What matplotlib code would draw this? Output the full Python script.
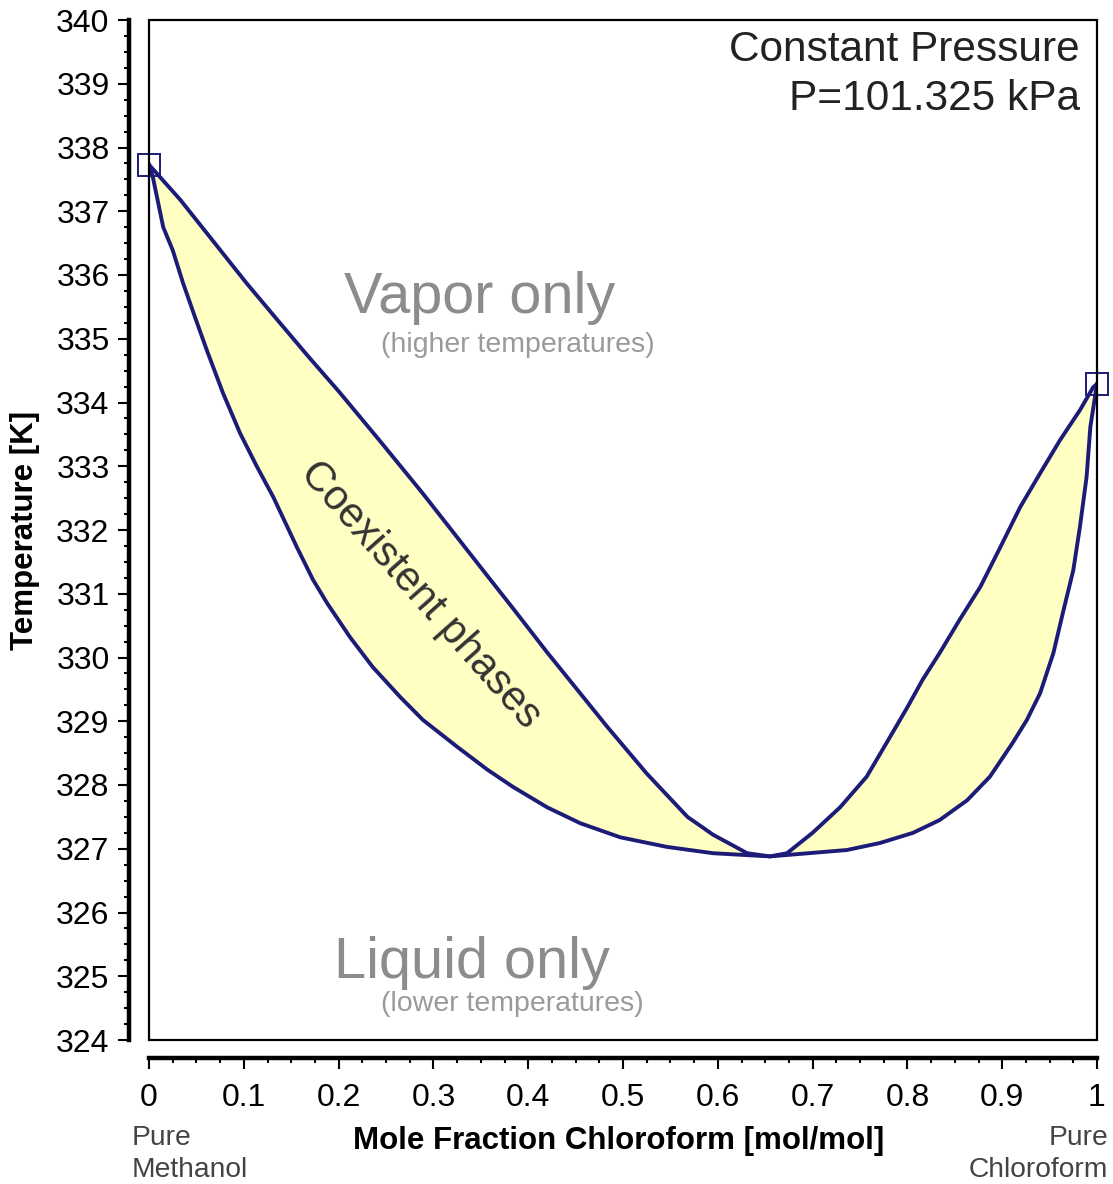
import matplotlib
matplotlib.use("Agg")
import matplotlib.pyplot as plt
from matplotlib.ticker import MultipleLocator
from matplotlib.patches import Rectangle
import numpy as np

plt.rcParams['font.family'] = ['Liberation Sans', 'DejaVu Sans']

# dew point curve (vapor side, upper line)
x_dew = [0.0, 0.033, 0.064, 0.103, 0.138, 0.167, 0.201, 0.244, 0.289, 0.357, 0.384,
         0.420, 0.483, 0.504, 0.525, 0.568, 0.595, 0.631, 0.655,
         0.673, 0.700, 0.729, 0.757, 0.778, 0.800, 0.816, 0.834, 0.855, 0.877, 0.898,
         0.919, 0.940, 0.961, 0.982, 0.996, 1.0]
T_dew = [337.73, 337.18, 336.60, 335.87, 335.25, 334.74, 334.16, 333.39, 332.57, 331.28, 330.77,
         330.08, 328.92, 328.55, 328.18, 327.50, 327.22, 326.93, 326.88,
         326.93, 327.25, 327.65, 328.13, 328.66, 329.22, 329.65, 330.07, 330.59, 331.11, 331.73,
         332.36, 332.89, 333.41, 333.88, 334.24, 334.29]

# bubble point curve (liquid side, lower line)
x_bub = [0.0, 0.004, 0.015, 0.025, 0.036, 0.0485, 0.061, 0.078, 0.096, 0.114, 0.131,
         0.156, 0.173, 0.188, 0.212, 0.236, 0.265, 0.289, 0.325, 0.357, 0.384, 0.420, 0.455,
         0.497, 0.546, 0.595, 0.655, 0.736, 0.771, 0.806, 0.834, 0.863, 0.887, 0.911, 0.926,
         0.940, 0.954, 0.964, 0.975, 0.982, 0.989, 0.993, 1.0]
T_bub = [337.73, 337.54, 336.75, 336.39, 335.87, 335.34, 334.82, 334.15, 333.52, 332.99, 332.52,
         331.73, 331.22, 330.85, 330.32, 329.85, 329.38, 329.02, 328.60, 328.24, 327.97, 327.65, 327.40,
         327.18, 327.03, 326.93, 326.88, 326.98, 327.09, 327.25, 327.45, 327.76, 328.13, 328.66, 329.02,
         329.44, 330.07, 330.70, 331.37, 332.05, 332.83, 333.62, 334.29]

# pure component boiling points
x_pure = [0.0, 1.0]
T_pure = [337.73, 334.29]

line_col = '#1c1c78'
fill_col = '#ffffc4'

fig = plt.figure(figsize=(11.13, 11.84), dpi=100)
ax = fig.add_axes([149 / 1113, 144 / 1184, 948 / 1113, 1020 / 1184])

poly_x = np.concatenate([x_dew, x_bub[::-1]])
poly_y = np.concatenate([T_dew, T_bub[::-1]])
ax.fill(poly_x, poly_y, color=fill_col, zorder=1)
ax.plot(x_dew, T_dew, color=line_col, lw=2.8, zorder=3)
ax.plot(x_bub, T_bub, color=line_col, lw=2.8, zorder=3)
ax.plot(x_pure, T_pure, 's', ms=15.5, mfc='none', mec=line_col, mew=1.4, zorder=4, clip_on=False)

ax.set_xlim(0, 1)
ax.set_ylim(324, 340)

# frame box around the plot area
ax.add_patch(Rectangle((0, 0), 1, 1, transform=ax.transAxes, fill=False,
                       ec='black', lw=1.6, zorder=5, clip_on=False))

# detached axis lines
for s in ['top', 'right']:
    ax.spines[s].set_visible(False)
ax.spines['left'].set_position(('outward', 14.4))
ax.spines['bottom'].set_position(('outward', 13))
ax.spines['left'].set_linewidth(3.2)
ax.spines['bottom'].set_linewidth(3.2)

ax.xaxis.set_minor_locator(MultipleLocator(0.025))
ax.yaxis.set_major_locator(MultipleLocator(1))
ax.yaxis.set_minor_locator(MultipleLocator(0.25))
xt = np.round(np.arange(0, 1.01, 0.1), 1)
ax.set_xticks(xt)
ax.set_xticklabels(['0' if v == 0 else ('1' if v == 1 else f'{v:g}') for v in xt])

ax.tick_params(axis='both', which='major', length=8, width=1.5, labelsize=23, colors='black')
ax.tick_params(axis='both', which='minor', length=3.5, width=1.5)
ax.tick_params(axis='y', which='major', pad=6)
ax.tick_params(axis='x', which='major', pad=10)

ax.set_ylabel('Temperature [K]', fontsize=22.5, fontweight='bold')
ax.yaxis.set_label_coords(-0.115, 0.5)
ax.set_xlabel('Mole Fraction Chloroform [mol/mol]', fontsize=22.5, fontweight='bold')
ax.xaxis.set_label_coords(0.495, -0.084)

ax.text(0.982, 0.990, 'Constant Pressure\nP=101.325 kPa', transform=ax.transAxes,
        ha='right', va='top', fontsize=30.5, color='#222222', multialignment='right',
        linespacing=1.3)

ax.text(0.349, 0.727, 'Vapor only', transform=ax.transAxes, ha='center', va='center',
        fontsize=41.5, color='#8c8c8c')
ax.text(0.389, 0.681, '(higher temperatures)', transform=ax.transAxes, ha='center', va='center',
        fontsize=20.5, color='#9a9a9a')
ax.text(0.341, 0.075, 'Liquid only', transform=ax.transAxes, ha='center', va='center',
        fontsize=41.5, color='#8c8c8c')
ax.text(0.383, 0.035, '(lower temperatures)', transform=ax.transAxes, ha='center', va='center',
        fontsize=20.5, color='#9a9a9a')
ax.text(0.286, 0.436, 'Coexistent phases', transform=ax.transAxes, ha='center', va='center',
        fontsize=30, color='#333333', rotation=-48.5, rotation_mode='anchor')

fig.text(132 / 1113, 1 - 1125 / 1184, 'Pure\nMethanol', ha='left', va='top',
         fontsize=20.3, color='#444444', linespacing=1.3)
fig.text(1108 / 1113, 1 - 1125 / 1184, 'Pure\nChloroform', ha='right', va='top',
         fontsize=20.3, color='#444444', linespacing=1.3, multialignment='right')

fig.savefig('out.png', dpi=100)
